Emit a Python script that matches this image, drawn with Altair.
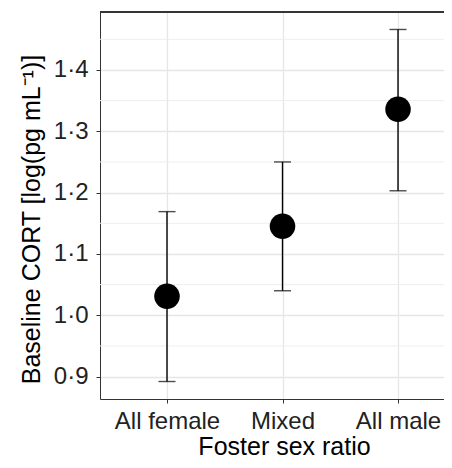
import json
import altair as alt
import pandas as pd

groups = ["All female", "Mixed", "All male"]
means = [1.031, 1.145, 1.336]
lower = [0.892, 1.040, 1.203]
upper = [1.169, 1.250, 1.466]
major_ticks = [0.9, 1.0, 1.1, 1.2, 1.3, 1.4]
minor_ticks = [0.95, 1.05, 1.15, 1.25, 1.35, 1.45]

df = pd.DataFrame({
    "group": groups,
    "idx": list(range(1, len(groups) + 1)),
    "mean": means,
    "lo": lower,
    "hi": upper,
})
minor_df = pd.DataFrame({"v": minor_ticks})

FONT = "Liberation Sans"
W, H = 344, 387
ydom = [0.8635, 1.4945]
xdom = [0.42, 3.398]

xscale = alt.Scale(domain=xdom, nice=False, zero=False)
xaxis = alt.Axis(
    title="Foster sex ratio",
    values=[1, 2, 3],
    labelExpr=json.dumps(groups) + "[datum.value - 1]",
    labelAngle=0,
    labelFontSize=24,
    titleFontSize=25,
    labelColor="#222222",
    titleColor="#000000",
    labelFont=FONT,
    titleFont=FONT,
    titleFontWeight="normal",
    labelBaseline="alphabetic",
    labelPadding=25,
    labelFlush=False,
    labelOverlap=False,
    titleBaseline="alphabetic",
    titleX=184,
    titleY=55,
    titleAlign="center",
    tickColor="#333333",
    tickSize=4,
    domainColor="#333333",
    gridColor="#e6e6e6",
    gridWidth=1.3,
)

yscale = alt.Scale(domain=ydom, nice=False, zero=False)
yaxis = alt.Axis(
    title="Baseline CORT [log(pg mL⁻¹)]",
    values=major_ticks,
    labelExpr="replace(format(datum.value, '.1f'), '.', '·')",
    labelFontSize=24,
    titleFontSize=25,
    labelColor="#222222",
    titleColor="#000000",
    labelFont=FONT,
    titleFont=FONT,
    titleFontWeight="normal",
    labelPadding=8,
    titleBaseline="alphabetic",
    titleX=-61,
    titleY=207,
    titleAlign="center",
    titleAngle=270,
    tickColor="#333333",
    tickSize=4,
    domainColor="#333333",
    gridColor="#e6e6e6",
    gridWidth=1.3,
)

base = alt.Chart(df)

minor = alt.Chart(minor_df).mark_rule(color="#eeeeee", strokeWidth=1).encode(
    y=alt.Y("v:Q", scale=yscale, axis=yaxis),
)

top_border = alt.Chart(minor_df).mark_rule(color="#333333", strokeWidth=1.2).encode(
    y=alt.value(0), x=alt.value(0), x2=alt.value(W)
)

bars = base.mark_rule(color="#000000", strokeWidth=1.4).encode(
    x=alt.X("idx:Q", scale=xscale, axis=xaxis),
    y=alt.Y("lo:Q", scale=yscale, axis=yaxis),
    y2="hi:Q",
)

caps_hi = base.mark_tick(color="#000000", size=17, thickness=1.4, orient="horizontal").encode(
    x=alt.X("idx:Q"), y=alt.Y("hi:Q")
)
caps_lo = base.mark_tick(color="#000000", size=17, thickness=1.4, orient="horizontal").encode(
    x=alt.X("idx:Q"), y=alt.Y("lo:Q")
)

pts = base.mark_circle(color="#000000", opacity=1, size=650).encode(
    x=alt.X("idx:Q"), y=alt.Y("mean:Q")
)

chart = (
    alt.layer(minor, bars, caps_hi, caps_lo, pts, top_border)
    .properties(
        width=W,
        height=H,
        autosize=alt.AutoSizeParams(type="none"),
        padding={"left": 92, "top": 4, "right": 0, "bottom": 61},
    )
    .configure_view(stroke=None)
    .configure(background="white")
)

chart.save("out.html", embed_options={"renderer": "svg", "actions": False})
